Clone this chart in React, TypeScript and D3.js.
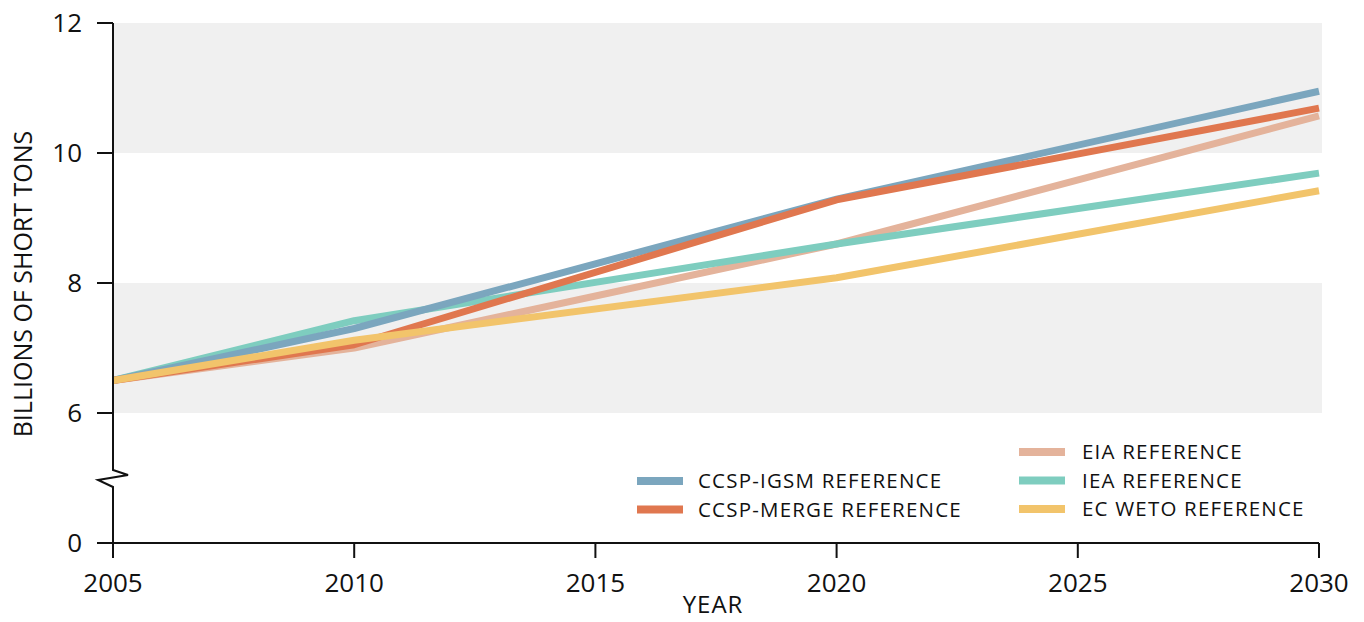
import { useEffect, useRef } from 'react';
import * as d3 from 'd3';

const years = [2005, 2010, 2020, 2030];
const igsm = [6.5, 7.3, 9.29, 10.95];
const merge = [6.5, 7.05, 9.28, 10.69];
const eia = [6.5, 7.0, 8.6, 10.57];
const iea = [6.5, 7.42, 8.6, 9.69];
const weto = [6.5, 7.12, 8.08, 9.42];

const xTicks = [2005, 2010, 2015, 2020, 2025, 2030];
const yTicks = [0, 6, 8, 10, 12];
const bands = [[6, 8], [10, 12]];

// drawing order: bottom to top
const series = [
  { name: 'EIA REFERENCE', values: eia, color: '#e4b39b' },
  { name: 'IEA REFERENCE', values: iea, color: '#7ecdbf' },
  { name: 'CCSP-IGSM REFERENCE', values: igsm, color: '#7ba6be' },
  { name: 'CCSP-MERGE REFERENCE', values: merge, color: '#e0774f' },
  { name: 'EC WETO REFERENCE', values: weto, color: '#f2c46b' },
];

const legendLeft = ['CCSP-IGSM REFERENCE', 'CCSP-MERGE REFERENCE'];
const legendRight = ['EIA REFERENCE', 'IEA REFERENCE', 'EC WETO REFERENCE'];

const FONT = '"Open Sans", "Noto Sans", sans-serif';

export default function App() {
  const svgRef = useRef<SVGSVGElement>(null);

  useEffect(() => {
    if (!svgRef.current) return;
    const width = 1364;
    const height = 622;
    const svg = d3.select(svgRef.current);
    svg.selectAll('*').remove();
    svg.attr('width', width).attr('height', height);

    const x = d3.scaleLinear().domain([2005, 2030]).range([113, 1319]);
    // broken axis: 0..6 is squeezed
    const y = d3.scaleLinear().domain([0, 6, 12]).range([543, 413, 23]);

    // gray bands
    svg.append('g')
      .selectAll('rect')
      .data(bands)
      .enter()
      .append('rect')
      .attr('x', x(2005))
      .attr('width', x(2030) - x(2005) + 3)
      .attr('y', (d) => y(d[1]))
      .attr('height', (d) => y(d[0]) - y(d[1]))
      .attr('fill', '#f0f0f0');

    // lines
    const line = d3
      .line<number>()
      .x((_, i) => x(years[i]))
      .y((d) => y(d));

    svg.append('g')
      .selectAll('path')
      .data(series)
      .enter()
      .append('path')
      .attr('d', (d) => line(d.values))
      .attr('fill', 'none')
      .attr('stroke', (d) => d.color)
      .attr('stroke-width', 7)
      .attr('stroke-linecap', 'butt')
      .attr('stroke-linejoin', 'round');

    const axis = svg.append('g').attr('stroke', '#111').attr('stroke-width', 2).attr('fill', 'none');

    // y axis with break
    const bx = x(2005);
    axis.append('path').attr('d', `M${bx},${y(12)}V470L128,475L98,480L${bx},487V${y(0)}`);
    axis.selectAll('line.yt')
      .data(yTicks)
      .enter()
      .append('line')
      .attr('x1', bx - 16)
      .attr('x2', bx)
      .attr('y1', (d) => y(d))
      .attr('y2', (d) => y(d));

    // x axis
    axis.append('line').attr('x1', bx).attr('x2', x(2030)).attr('y1', y(0)).attr('y2', y(0));
    axis.selectAll('line.xt')
      .data(xTicks)
      .enter()
      .append('line')
      .attr('x1', (d) => x(d))
      .attr('x2', (d) => x(d))
      .attr('y1', y(0))
      .attr('y2', y(0) + 15);

    const text = svg.append('g').attr('font-family', FONT).attr('fill', '#111');

    text.selectAll('text.yl')
      .data(yTicks)
      .enter()
      .append('text')
      .attr('x', 82)
      .attr('y', (d) => y(d))
      .attr('dy', '0.36em')
      .attr('text-anchor', 'end')
      .attr('font-size', 26)
      .text((d) => d);

    text.selectAll('text.xl')
      .data(xTicks)
      .enter()
      .append('text')
      .attr('x', (d) => x(d))
      .attr('y', 592)
      .attr('text-anchor', 'middle')
      .attr('font-size', 26)
      .text((d) => d);

    text.append('text')
      .attr('x', 713)
      .attr('y', 613)
      .attr('text-anchor', 'middle')
      .attr('font-size', 24)
      .attr('letter-spacing', 1)
      .text('YEAR');

    text.append('text')
      .attr('transform', 'translate(32,284) rotate(-90)')
      .attr('text-anchor', 'middle')
      .attr('font-size', 25)
      .text('BILLIONS OF SHORT TONS');

    // legend
    const colorOf = (n: string) => series.find((s) => s.name === n)!.color;
    const drawLegend = (names: string[], sx: number, tx: number, y0: number) => {
      const g = svg.append('g');
      names.forEach((n, i) => {
        const cy = y0 + i * 28.5;
        g.append('line')
          .attr('x1', sx)
          .attr('x2', sx + 46)
          .attr('y1', cy)
          .attr('y2', cy)
          .attr('stroke', colorOf(n))
          .attr('stroke-width', 8);
        g.append('text')
          .attr('x', tx)
          .attr('y', cy)
          .attr('dy', '0.36em')
          .attr('font-family', FONT)
          .attr('font-size', 20.5)
          .attr('letter-spacing', 1.2)
          .attr('fill', '#111')
          .text(n);
      });
    };
    drawLegend(legendLeft, 637, 698, 481);
    drawLegend(legendRight, 1019, 1082, 452);
  }, []);

  return <svg ref={svgRef} style={{ position: 'absolute', left: 0, top: 0 }} />;
}
